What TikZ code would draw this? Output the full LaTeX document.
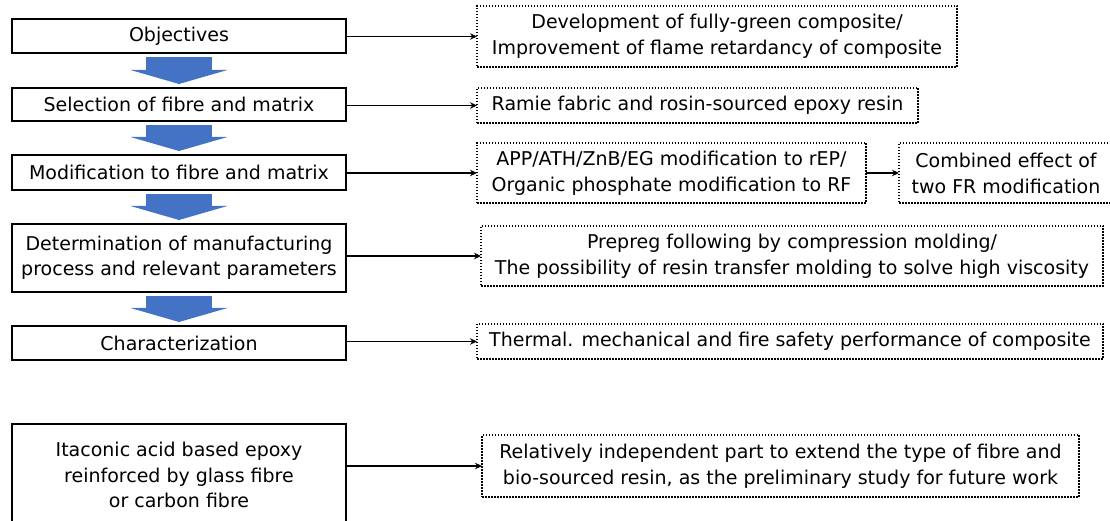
\documentclass[tikz,border=0pt]{standalone}
\usepackage{fontspec}
\setmainfont{DejaVu Sans}
\usetikzlibrary{arrows.meta}
\definecolor{flowblue}{HTML}{4472C4}
\begin{document}
\begin{tikzpicture}
  [x=1pt,y=1pt,
   stage/.style={rectangle,draw=black,line width=1.8pt,align=center,
                 outer sep=0,inner sep=0,minimum width=334pt,
                 font=\fontsize{19}{25.5}\selectfont},
   note/.style={rectangle,draw=black,line width=1.5pt,dash pattern=on 1.5pt off 1.5pt,
                align=center,outer sep=0,inner sep=0,
                font=\fontsize{19}{26}\selectfont},
   flow/.style={draw=flowblue,line width=66pt,shorten <=4pt,shorten >=4pt,
                -{Triangle[width=97pt,length=14pt,line width=0pt]}},
   link/.style={line width=1.6pt,-{Stealth[length=7pt,width=6.5pt]}}]
  \useasboundingbox (0,0) rectangle (1110,521);
  % left column
  \node[stage,minimum height=34pt] (obj) at (179,485) {Objectives};
  \node[stage,minimum height=33pt] (sel) at (179,416.5) {Selection of fibre and matrix};
  \node[stage,minimum height=35pt] (mod) at (179,348.5) {Modification to fibre and matrix};
  \node[stage,minimum height=68pt] (det) at (179,263) {Determination of manufacturing\\process and relevant parameters};
  \node[stage,minimum height=34pt] (chr) at (179,178) {Characterization};
  \node[stage,minimum height=102pt] (ita) at (179,46) {Itaconic acid based epoxy\\reinforced by glass fibre\\or carbon fibre};
  % right column
  \node[note,minimum width=480pt,minimum height=61pt] (goal) at (717,484.5) {Development of fully-green composite/\\Improvement of flame retardancy of composite};
  \node[note,minimum width=441pt,minimum height=35pt] (mater) at (697.5,415.5) {Ramie fabric and rosin-sourced epoxy resin};
  \node[note,minimum width=389pt,minimum height=60pt] (fr) at (671.5,348) {APP/ATH/ZnB/EG modification to rEP/\\Organic phosphate modification to RF};
  \node[note,minimum width=214pt,minimum height=60pt] (frmix) at (1006,348) {Combined effect of\\two FR modification};
  \node[note,minimum width=622pt,minimum height=60pt] (proc) at (792,265) {Prepreg following by compression molding/\\The possibility of resin transfer molding to solve high viscosity};
  \node[note,minimum width=626pt,minimum height=35pt] (perf) at (790,179.5) {Thermal. mechanical and fire safety performance of composite};
  \node[note,minimum width=597pt,minimum height=62pt] (ext) at (780.5,55) {Relatively independent part to extend the type of fibre and\\bio-sourced resin, as the preliminary study for future work};
  % blue flow arrows
  \foreach \a/\b in {obj/sel,sel/mod,mod/det,det/chr}
    \draw[flow] (\a) -- (\b);
  % links
  \foreach \a/\b in {obj/goal,sel/mater,mod/fr,det/proc,chr/perf,ita/ext,fr/frmix}
    \draw[link] (\a.east |- \b) -- (\b);
\end{tikzpicture}
\end{document}
